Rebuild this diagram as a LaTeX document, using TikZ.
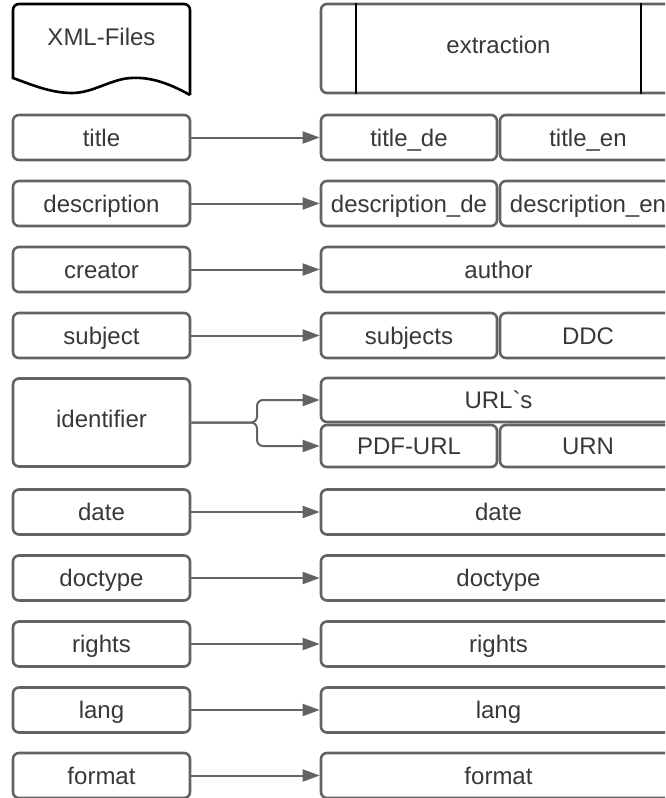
\documentclass[tikz,border=0pt]{standalone}
\usepackage{fontspec}
\setmainfont{Liberation Sans}
\newfontfamily\rawfont{Liberation Sans}
\usetikzlibrary{arrows.meta}
\definecolor{stroke}{HTML}{636363}
\definecolor{txt}{HTML}{383838}
\begin{document}
\begin{tikzpicture}[x=1pt,y=-1pt,
  box/.style={draw=stroke,line width=2.6pt,rounded corners=6pt,inner sep=0pt,
    text=txt,font=\fontsize{24}{26}\selectfont,minimum height=45pt,
    text height=20pt,text depth=3pt},
  lbox/.style={box,minimum width=177pt},
  fbox/.style={box,minimum width=355pt},
  hbox/.style={box,minimum width=176pt},
  arr/.style={draw=stroke,line width=2pt,-{Triangle[length=17pt,width=12pt]}},
  lbl/.style={text=txt,font=\fontsize{24}{26}\selectfont,inner sep=0pt,
    text height=20pt,text depth=3pt}]
\useasboundingbox (0,0) rectangle (665,798);
\clip (0,0) rectangle (665,798);
% document shape
\draw[stroke,line width=2.6pt,rounded corners=6pt] (13,79) -- (13,4) -- (190,4) -- (190,95);
\draw[stroke,line width=2.6pt] (190,95) .. controls (160,78) and (140,76) .. (123,79)
  .. controls (105,83) and (90,93) .. (72,93) .. controls (50,93) and (30,84) .. (13,78);
\node[lbl] (xml) at (101.5,36.5) {XML-Files};
% extraction
\node[fbox,minimum height=89pt] (extr) at (498.5,48.5) {};
\node[lbl] (extrl) at (498.5,44.5) {extraction};
\draw[stroke,line width=2.3pt] ([xshift=36pt]extr.north west) -- ([xshift=36pt]extr.south west);
\draw[stroke,line width=2.3pt] ([xshift=-36pt]extr.north east) -- ([xshift=-36pt]extr.south east);
% left column
\node[lbox] (title) at (101.5,137.5) {title};
\node[lbox] (desc) at (101.5,203.5) {description};
\node[lbox] (creator) at (101.5,269.5) {creator};
\node[lbox] (subject) at (101.5,335.5) {subject};
\node[lbox,minimum height=88pt] (ident) at (101.5,422.5) {};
\node[lbl] (identl) at (101.5,418.5) {identifier};
\node[lbox] (date) at (101.5,512) {date};
\node[lbox] (doctype) at (101.5,578) {doctype};
\node[lbox] (rights) at (101.5,644) {rights};
\node[lbox] (lang) at (101.5,710) {lang};
\node[lbox] (format) at (101.5,775.5) {format};
% right column
\node[hbox] (titlede) at (409,137.5) {title\_de};
\node[hbox] (titleen) at (588,137.5) {title\_en};
\node[hbox] (descde) at (409,203.5) {description\_de};
\node[hbox] (descen) at (588,203.5) {description\_en};
\node[fbox] (author) at (498.5,269.5) {author};
\node[hbox] (subjects) at (409,335.5) {subjects};
\node[hbox] (ddc) at (588,335.5) {DDC};
\node[fbox,minimum height=44pt] (url) at (498.5,400) {URL{\rawfont`}s};
\node[hbox,minimum height=42pt] (pdf) at (409,446) {PDF-URL};
\node[hbox,minimum height=42pt] (urn) at (588,446) {URN};
\node[fbox] (rdate) at (498.5,512) {date};
\node[fbox] (rdoctype) at (498.5,578) {doctype};
\node[fbox] (rrights) at (498.5,644) {rights};
\node[fbox] (rlang) at (498.5,710) {lang};
\node[fbox] (rformat) at (498.5,775.5) {format};
% arrows
\draw[arr] (title) -- (titlede);
\draw[arr] (desc) -- (descde);
\draw[arr] (creator) -- (author);
\draw[arr] (subject) -- (subjects);
\draw[arr] (date) -- (rdate);
\draw[arr] (doctype) -- (rdoctype);
\draw[arr] (rights) -- (rrights);
\draw[arr] (lang) -- (rlang);
\draw[arr] (format) -- (rformat);
\coordinate (bj) at (257,422.5);
\draw[arr,rounded corners=6pt] (ident.east) -- (bj) |- (url.west);
\draw[arr,rounded corners=6pt] (ident.east) -- (bj) |- (pdf.west);
\end{tikzpicture}
\end{document}
